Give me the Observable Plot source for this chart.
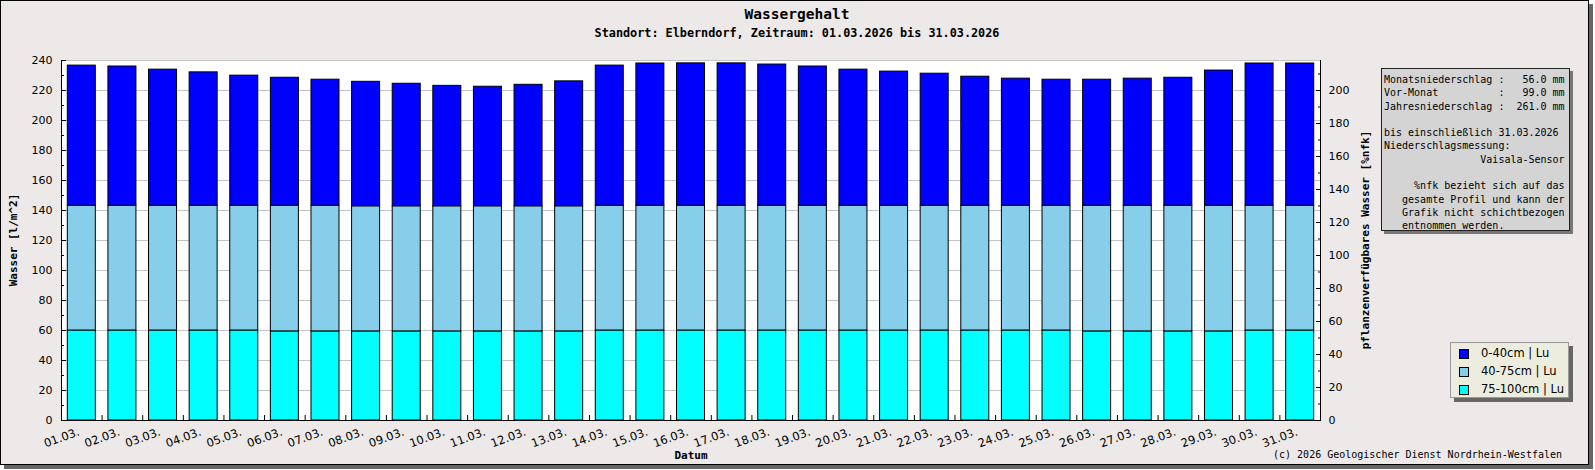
<!DOCTYPE html>
<html><head><meta charset="utf-8">
<script src="https://cdn.jsdelivr.net/npm/d3@7"></script>
<script src="https://cdn.jsdelivr.net/npm/@observablehq/plot@0.6"></script>
<style>
html,body{margin:0;padding:0;background:#fff;}
#wrap{position:relative;width:1595px;height:470px;overflow:hidden;}
#box{position:absolute;left:0;top:0;width:1587px;height:463px;border:1.5px solid #000;background:#ece9e8;box-shadow:4px 4px 0 #666;}
#chart{position:absolute;left:0;top:0;}
.t{position:absolute;left:0;width:1594px;text-align:center;font-family:"DejaVu Sans Mono",monospace;font-weight:bold;color:#000;white-space:nowrap;}
#title{top:5px;font-size:14.5px;line-height:18px;}
#subtitle{top:26px;font-size:11.8px;line-height:14px;}
.ax{position:absolute;top:240px;font-family:"DejaVu Sans Mono",monospace;font-weight:bold;font-size:11px;line-height:12px;color:#000;white-space:nowrap;transform:translate(-50%,-50%) rotate(-90deg);}
#info{position:absolute;left:1381px;top:68px;width:187px;height:161px;background:#d4d4d4;border:1px solid #222;box-shadow:3px 3px 0 #777;}
#info pre{margin:0;padding:4px 0 0 2px;font-family:"DejaVu Sans Mono",monospace;font-size:10px;line-height:13.3px;color:#000;}
#legend{position:absolute;left:1450px;top:342px;width:117px;height:54px;background:#ededdf;border:1px solid #999;box-shadow:4px 4px 0 #666;}
.row{position:absolute;left:8px;height:10px;}
.sw{position:absolute;left:0;top:0;width:8px;height:8px;border:1px solid #000;}
.lab{position:absolute;left:22px;top:-3px;font-family:"DejaVu Sans",sans-serif;font-size:11.5px;line-height:14px;white-space:nowrap;color:#000;}
#copy{position:absolute;right:33px;top:449px;font-family:"DejaVu Sans Mono",monospace;font-size:10px;line-height:12px;color:#000;white-space:nowrap;}
</style></head>
<body>
<div id="wrap">
  <div id="box"></div>
  <div id="title" class="t">Wassergehalt</div>
  <div id="subtitle" class="t">Standort: Elberndorf, Zeitraum: 01.03.2026 bis 31.03.2026</div>
  <div id="chart"></div>
  <div class="ax" style="left:14px">Wasser [l/m^2]</div>
  <div class="ax" style="left:1366px">pflanzenverfügbares Wasser [%nfk]</div>
  <div id="info"><pre id="infotext"></pre></div>
  <div id="legend"></div>
  <div id="copy">(c) 2026 Geologischer Dienst Nordrhein-Westfalen</div>
</div>
<script>
// ---- data ----
const days = ["01.03.","02.03.","03.03.","04.03.","05.03.","06.03.","07.03.","08.03.","09.03.","10.03.",
  "11.03.","12.03.","13.03.","14.03.","15.03.","16.03.","17.03.","18.03.","19.03.","20.03.",
  "21.03.","22.03.","23.03.","24.03.","25.03.","26.03.","27.03.","28.03.","29.03.","30.03.","31.03."];
const layers = ["0-40cm | Lu", "40-75cm | Lu", "75-100cm | Lu"];
const colors = ["#0000ff", "#87ceeb", "#00ffff"];
// water per layer [l/m^2]
const w0_40 = [93.4,92.8,90.7,88.9,86.7,85.3,84.0,83.0,81.7,80.3,79.7,81.0,83.3,93.4,94.8,94.9,
  94.9,94.1,92.8,90.7,89.4,88.0,86.0,84.7,84.0,84.0,84.7,85.3,90.1,94.8,94.8];
const w40_75 = [83.2,83.2,83.2,83.2,83.2,83.8,83.8,83.4,83.4,83.4,83.4,83.4,83.4,83.2,83.2,83.2,
  83.2,83.2,83.2,83.2,83.2,83.2,83.2,83.2,83.2,83.8,83.8,83.8,83.8,83.2,83.2];
const w75_100 = [60.0,60.0,60.0,60.0,60.0,59.4,59.4,59.4,59.4,59.4,59.4,59.4,59.4,60.0,60.0,60.0,
  60.0,60.0,60.0,60.0,60.0,60.0,60.0,60.0,60.0,59.4,59.4,59.4,59.4,60.0,60.0];
const leftTicks = [0,20,40,60,80,100,120,140,160,180,200,220,240];
const leftMinor = [10,30,50,70,90,110,130,150,170,190,210,230];
const rightTicks = [0,20,40,60,80,100,120,140,160,180,200];
const rightMinor = [10,30,50,70,90,110,130,150,170,190,210];
const nfkFactor = 1.1; // l/m^2 per %nfk
const infoLines = [
  "Monatsniederschlag :   56.0 mm",
  "Vor-Monat          :   99.0 mm",
  "Jahresniederschlag :  261.0 mm",
  "",
  "bis einschließlich 31.03.2026",
  "Niederschlagsmessung:",
  "                Vaisala-Sensor",
  "",
  "     %nfk bezieht sich auf das",
  "   gesamte Profil und kann der",
  "   Grafik nicht schichtbezogen",
  "   entnommen werden."
];

// ---- table ----
const series = [w0_40, w40_75, w75_100];
const rows = [];
for (const li of [2, 1, 0]) {
  days.forEach((d, i) => rows.push({day: d, layer: layers[li], value: series[li][i]}));
}

const W = 1595, H = 470, mL = 61, mR = 275, mT = 60, mB = 50;
const step = (W - mL - mR) / days.length;

const plot = Plot.plot({
  width: W, height: H,
  marginLeft: mL, marginRight: mR, marginTop: mT, marginBottom: mB,
  style: {fontFamily: "DejaVu Sans", fontSize: "11px", color: "#000", background: "transparent", overflow: "visible"},
  x: {type: "band", domain: days, padding: 0, round: false, label: null},
  y: {domain: [0, 240], label: null},
  color: {domain: layers, range: colors},
  marks: [
    Plot.frame({fill: "white", stroke: null}),
    Plot.gridY(leftTicks, {stroke: "#c4c4c4", strokeOpacity: 1}),
    Plot.barY(rows, {x: "day", y: "value", fill: "layer", stroke: "#000", strokeWidth: 1, insetLeft: 6.3, insetRight: 6.3}),
    Plot.ruleY([0], {stroke: "#000"}),
    Plot.ruleX([days[0]], {dx: -step / 2, stroke: "#000"}),
    Plot.ruleX([days[days.length - 1]], {dx: step / 2, stroke: "#000"}),
    // left axis
    Plot.axisY(leftTicks, {anchor: "left", tickSize: 0, tickPadding: 9, label: null}),
    Plot.axisY(leftTicks, {anchor: "left", tickSize: 5, dx: 5, fill: "none", label: null}),
    Plot.axisY(leftMinor, {anchor: "left", tickSize: 3, dx: 3, fill: "none", label: null}),
    // right axis (%nfk)
    Plot.axisY(rightTicks.map(v => v * nfkFactor), {anchor: "right", tickSize: 0, tickPadding: 8, tickFormat: d => String(Math.round(d / nfkFactor)), label: null}),
    Plot.axisY(rightTicks.map(v => v * nfkFactor), {anchor: "right", tickSize: 5, dx: -5, fill: "none", label: null}),
    Plot.axisY(rightMinor.map(v => v * nfkFactor), {anchor: "right", tickSize: 3, dx: -3, fill: "none", label: null}),
    // x axis
    Plot.axisX({anchor: "bottom", tickSize: 0, tickPadding: 11, tickRotate: -20, dx: -3, fontSize: 11.5, label: null}),
    Plot.axisX({anchor: "bottom", tickSize: 5, dy: -5, dx: step / 2, fill: "none", label: null}),
    Plot.text(["Datum"], {frameAnchor: "bottom", dy: 38, fontFamily: "DejaVu Sans Mono", fontWeight: "bold", fontSize: 11})
  ]
});
document.getElementById("chart").appendChild(plot);

document.getElementById("infotext").textContent = infoLines.join("\n");

const leg = document.getElementById("legend");
layers.forEach((l, i) => {
  const r = document.createElement("div");
  r.className = "row";
  r.style.top = (6 + i * 18) + "px";
  r.innerHTML = `<div class="sw" style="background:${colors[i]}"></div><div class="lab"></div>`;
  r.querySelector(".lab").textContent = l;
  leg.appendChild(r);
});
</script>
</body></html>
